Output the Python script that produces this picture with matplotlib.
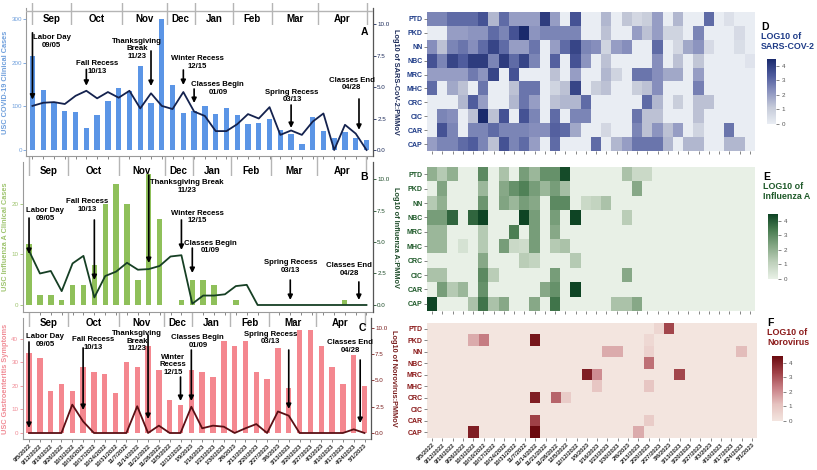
import numpy as np
import matplotlib
matplotlib.use("Agg")
import matplotlib.pyplot as plt
from matplotlib.colors import LinearSegmentedColormap
from matplotlib import font_manager

# weekly sampling dates (winter break skipped)
dates = ["9/5/2022", "9/12/2022", "9/19/2022", "9/26/2022", "10/3/2022", "10/10/2022",
         "10/17/2022", "10/24/2022", "10/31/2022", "11/7/2022", "11/14/2022", "11/21/2022",
         "11/28/2022", "12/5/2022", "12/12/2022", "1/9/2023", "1/16/2023", "1/23/2023",
         "1/30/2023", "2/6/2023", "2/13/2023", "2/20/2023", "2/27/2023", "3/6/2023",
         "3/13/2023", "3/20/2023", "3/27/2023", "4/3/2023", "4/10/2023", "4/17/2023",
         "4/24/2023", "5/1/2023"]
sites = ["PTD", "PKD", "NN", "NBC", "MRC", "MHC", "CRC", "CIC", "CAR", "CAP"]
months = ["Sep", "Oct", "Nov", "Dec", "Jan", "Feb", "Mar", "Apr"]
month_breaks = [0, 3.6, 8.3, 12.45, 15.05, 18.6, 22.2, 26.5, 31]

# clinical cases (bars) and wastewater ratios (lines)
covid_cases = [215, 137, 111, 90, 87, 51, 81, 112, 141, 136, 192, 108, 300, 149, 84, 89,
               101, 82, 97, 79, 59, 61, 70, 46, 37, 14, 75, 44, 28, 42, 27, 24]
sars_pmmov = [3.5, 3.75, 3.8, 3.65, 4.3, 4.7, 4.1, 4.6, 4.15, 4.7, 3.3, 4.5, 3.5, 3.25, 4.6, 3.05,
              2.7, 1.5, 1.5, 2.05, 2.85, 2.5, 3.4, 1.2, 1.55, 1.2, 2.25, 2.9, 0, 2.0, 1.3, 0]
flu_cases = [12, 2, 2, 1, 4, 4, 8, 20, 24, 20, 5, 26, 17, 0, 1, 5,
             5, 4, 0, 1, 0, 0, 0, 0, 0, 0, 0, 0, 0, 1, 0, 0]
flu_pmmov = [4.3, 2.5, 2.7, 1.1, 3.3, 3.9, 0.6, 2.3, 2.65, 3.35, 2.8, 2.85, 3.1, 3.85, 3.95, 0.1,
             0.75, 0.75, 0.85, 1.5, 1.6, 0, 0, 0, 0, 0, 0, 0, 0, 0, 0, 0]
gi_symptoms = [34, 32, 18, 21, 18, 28, 26, 25, 17, 30, 28, 37, 27, 14, 12, 27,
               26, 24, 39, 37, 39, 26, 23, 36, 19, 44, 44, 37, 28, 21, 33, 20]
noro_pmmov = [0, 0, 0, 0, 2.7, 1.1, 0, 0, 0, 0, 2.55, 0, 0.7, 0, 0, 2.5,
              0.45, 0.7, 0.6, 0, 0.45, 0.85, 0, 2.05, 1.65, 0, 0, 0, 0, 0, 0.35, 0]

# LOG10 per site (rows) and week (cols)
sars_heat = [
    [2.5, 2.5, 3, 3, 3, 3.5, 1.5, 3, 2, 2, 2, 4, 2, 0, 3.5, 0, 0, 1.5, 0, 1.2, 0.7, 1, 2, 0, 1.5, 0, 0, 3, 0, 0.4, 0, 0],
    [0, 0, 2, 2, 2.2, 2.2, 3, 2.5, 3.5, 4.5, 2.2, 2.5, 2.5, 2.5, 2.5, 0, 0, 1.3, 0, 0, 2, 1.3, 2, 0.8, 0.8, 0, 2.5, 0, 0, 0, 0.6, 0],
    [2.3, 1.3, 2.5, 2.8, 2.3, 3, 3.8, 3, 2, 2, 2.8, 0, 2, 3, 3.8, 2.5, 2.3, 0.8, 2, 2.3, 0, 0, 3, 0, 0.7, 1.8, 2.2, 0.6, 0, 0, 0.5, 0],
    [3.5, 2.5, 3.8, 3.3, 4, 4, 2.5, 4, 3, 3.8, 2.5, 0, 3.2, 0, 3.5, 2.2, 0, 1.3, 0, 0, 0, 0, 2.3, 0, 1.3, 0, 1.2, 0, 0, 0, 0, 0.3],
    [2, 2, 2, 2, 2.7, 2.2, 3.8, 0, 3.5, 0, 0, 0, 1.3, 0, 2, 0, 0, 1.5, 0.8, 0, 2.8, 2.8, 2.3, 1.8, 1.8, 0, 2, 0, 0, 0, 0, 0],
    [3, 0, 1.8, 1.3, 0, 2.8, 0, 0, 1.3, 2.8, 2.8, 0, 0.8, 1.3, 3.8, 0, 1, 1.3, 0, 0, 1, 1.3, 2.3, 0, 0, 0, 2.6, 0, 0, 0, 0, 0],
    [0, 0, 0, 1.5, 3.3, 2, 0, 0, 1.5, 2.8, 2, 0, 1.3, 1.5, 1.5, 3, 0, 0, 0, 0, 0, 3, 1.5, 0, 1, 0, 1.3, 1.3, 0, 0, 0, 0],
    [0, 2.5, 2.3, 0, 1.3, 4.5, 1.3, 3.5, 0, 3.5, 2.5, 0, 3, 0, 2.5, 2.5, 0, 0, 0, 0, 2.8, 1.3, 1.3, 0, 0, 0, 1.3, 0, 0, 0, 0, 0],
    [0, 3.5, 2.5, 0, 2.5, 2.5, 3, 2.5, 2.5, 2.5, 2.3, 2.3, 3.2, 3, 1.8, 0, 0, 0.7, 0, 0, 2.5, 1.3, 2.2, 1.3, 2, 0, 0.8, 0, 0, 2.8, 0, 0],
    [2, 2.5, 2.5, 3, 3.3, 2.5, 1.3, 3.5, 2.5, 3, 2, 0, 3, 0, 0, 0, 3, 0, 1.5, 2, 2.8, 2.8, 2.8, 1.5, 0, 1.5, 1.5, 0, 0, 1.5, 1.5, 0],
]
flu_heat = [
    [2, 1.3, 2, 0, 0, 3, 0, 1.5, 0, 2.5, 1.8, 2.8, 2.8, 4.3, 0, 0, 0, 0, 0, 1.5, 0.8, 0.8, 0, 0, 0, 0, 0, 0, 0, 0, 0, 0],
    [0, 2.3, 0, 0, 0, 1.8, 0, 2.2, 2.8, 3.2, 2.5, 1.8, 2.5, 1.6, 0, 0, 0, 0, 0, 0, 2.2, 0, 0, 0, 0, 0, 0, 0, 0, 0, 0, 0],
    [1.3, 2, 0, 0, 0, 2.7, 0, 2.3, 1.8, 2.5, 2.2, 0, 3, 3, 0, 0.8, 1, 1.5, 0, 0, 0, 0, 0, 0, 0, 0, 0, 0, 0, 0, 0, 0],
    [2.5, 2.5, 3.8, 0, 3.8, 4.5, 0, 0, 0, 4.5, 2.5, 0, 2.5, 0, 4.5, 0, 0, 0, 0, 1.2, 0, 0, 0, 0, 0, 0, 0, 0, 0, 0, 0, 0],
    [1.8, 1.8, 0, 0, 0, 1.3, 0, 0, 3.3, 0, 2.5, 0, 2.2, 0, 0, 0, 0, 0, 0, 0, 0, 0, 0, 0, 0, 0, 0, 0, 0, 0, 0, 0],
    [1.8, 1.8, 0, 0.5, 0, 1.3, 0, 2.5, 0.8, 0.7, 2.5, 0, 1.3, 1.5, 0, 0, 0, 0, 0, 0, 0, 0, 0, 0, 0, 0, 0, 0, 0, 0, 0, 0],
    [0, 0, 0, 0, 0, 2.2, 0, 0, 0, 1.2, 1.0, 0, 0, 0, 1.3, 0, 0, 0, 0, 0, 0, 0, 0, 0, 0, 0, 0, 0, 0, 0, 0, 0],
    [1.5, 1.5, 0, 0, 0, 3, 1.2, 0, 0, 0, 0, 0, 2.5, 0, 0, 0, 0, 0, 0, 2.2, 0, 0, 0, 0, 0, 0, 0, 0, 0, 0, 0, 0],
    [0, 2.5, 1.3, 1.8, 0, 2.8, 0, 0, 0, 0, 0, 2.2, 2.8, 0, 4.5, 0, 0, 0, 0, 0, 0, 0, 0, 0, 0, 0, 0, 0, 0, 0, 0, 0],
    [4.5, 0, 0, 0, 1.5, 3.5, 1.5, 2.2, 0, 0, 2.2, 0, 3.5, 0, 0, 0, 0, 0, 1.5, 1.5, 2.2, 0, 0, 0, 0, 0, 0, 0, 0, 0, 0, 0],
]
noro_heat = [
    [0, 0, 0, 0, 0, 0, 0, 0, 0, 0, 0, 0, 0, 0, 0, 0, 0, 0, 0, 0, 0, 0, 0.5, 3.2, 0, 0, 0, 0, 0, 0, 0, 0],
    [0, 0, 0, 0, 1.5, 2.3, 0, 0, 0, 0, 4.2, 0, 0, 0, 0, 0, 0, 0, 0, 0, 0, 0.4, 0, 0, 0, 0, 0, 0, 0, 0, 0, 0],
    [0, 0, 0, 0, 0, 0, 0, 0, 0, 0, 0, 0, 0, 0, 0, 0, 0, 1.5, 1.5, 0, 0, 0.6, 0, 0, 0, 0, 0, 0, 0, 0, 1.2, 0],
    [0, 0, 0, 0, 0, 0, 0, 0, 0, 0, 0, 0, 0, 0, 0, 0, 0, 0, 0, 0, 0, 2.5, 0, 0, 0, 0, 0, 0, 0, 0, 0, 0],
    [0, 0, 0, 0, 0, 0, 0, 0, 0, 0, 0, 0, 0, 0, 0, 4, 2, 0, 0, 0, 0, 0, 0, 0, 3.2, 0, 0, 0, 0, 0, 0, 0],
    [0, 0, 0, 0, 0, 0, 0, 0, 0, 0, 0, 0, 0, 0, 0, 0, 1.0, 0, 0, 0, 0, 1.0, 0, 0, 0, 0, 0, 0, 0, 0, 0, 0],
    [0, 0, 0, 0, 0, 0, 0, 0, 0, 0, 4, 0, 2.7, 0.8, 0, 0, 0, 0, 0, 0, 0, 0, 0, 0, 0, 0, 0, 0, 0, 0, 0, 0],
    [0, 0, 0, 0, 0, 0, 0, 0, 0, 0, 0, 0, 0, 0, 0, 0, 0, 0, 0, 0, 0, 0, 0, 0, 0, 0, 0, 0, 0, 0, 0, 0],
    [0, 0, 0, 0, 0, 0, 0, 0, 0, 0, 3.3, 0, 0, 0, 0, 0, 0, 0, 0, 0, 0, 0.8, 0, 0, 0, 0, 0, 0, 0, 0, 0, 0],
    [0, 0, 0, 0, 4, 0, 0, 0, 0, 0, 4.5, 0, 0, 0, 0, 0, 0, 0, 0, 0, 1.5, 0, 0, 0, 0, 0, 0, 0, 0, 0, 0, 0],
]

W, H = 817, 470
names = {f.name for f in font_manager.fontManager.ttflist}
NARROW = "Liberation Sans Narrow" if "Liberation Sans Narrow" in names else "Liberation Sans"
NOTE_SIZE = 6.5 if NARROW == "Liberation Sans Narrow" else 5.6
plt.rcParams["font.family"] = ["Liberation Sans", "DejaVu Sans"]

fig = plt.figure(figsize=(W / 100, H / 100), dpi=100)


def px(l, t, r, b):
    # pixel box -> figure fraction
    return [l / W, 1 - b / H, (r - l) / W, (b - t) / H]


def bar_panel(box, strip, ylim_l, ylim_r, cases, ratio, bar_c, line_c, lab_c, rlab_c,
              ylab, rlab, lticks, letter, letter_y, notes, top_line=False, xlabels=False):
    x = np.arange(len(dates))
    ax = fig.add_axes(px(*box))
    ax.bar(x, cases, width=0.5, color=bar_c, zorder=1)
    ax.set_xlim(-0.6, 31.6)
    ax.set_ylim(*ylim_l)
    ax.set_yticks(lticks)
    ax.tick_params(axis="y", colors=lab_c, labelsize=4.5, length=2, width=0.6, pad=1)
    ax.set_ylabel(ylab, color=lab_c, fontsize=5.3, fontweight="bold", labelpad=2)
    ax.set_xticks(x)
    if xlabels:
        ax.set_xticklabels(dates, rotation=45, ha="right", rotation_mode="anchor",
                           fontsize=4.2, fontweight="bold", family=NARROW, color="#222222")
    else:
        ax.set_xticklabels([])
    ax.tick_params(axis="x", length=2, width=0.5, color="#555555", pad=1)
    ax.spines["top"].set_visible(False)
    ax.spines["left"].set_color("#9a9a9a")
    ax.spines["bottom"].set_color("#9a9a9a")

    ax2 = ax.twinx()
    ax2.plot(x, ratio, color=line_c, lw=1.3, zorder=3)
    ax2.set_ylim(*ylim_r)
    ax2.set_yticks([0, 2.5, 5, 7.5, 10])
    ax2.set_yticklabels(["0.0", "2.5", "5.0", "7.5", "10.0"])
    ax2.tick_params(axis="y", colors=rlab_c, labelsize=4.5, length=2, width=0.6, pad=1)
    ax2.set_ylabel(rlab, rotation=270, color=rlab_c, fontsize=5.3, fontweight="bold", labelpad=7)
    ax2.spines["top"].set_visible(False)
    ax2.spines["right"].set_color("#555555")
    ax2.spines["left"].set_visible(False)
    ax2.spines["bottom"].set_visible(False)

    for label, tx, ty, axx, y0, y1 in notes:
        ax2.text(tx, ty, label, ha="center", va="center", fontsize=NOTE_SIZE, fontweight="bold",
                 family=NARROW, linespacing=1.1, zorder=5)
        ax2.annotate("", xy=(axx, y1), xytext=(axx, y0),
                     arrowprops=dict(arrowstyle="-|>", color="black", lw=1.2,
                                     mutation_scale=7, shrinkA=0, shrinkB=0), zorder=5)

    # month strip on top
    sx = fig.add_axes(px(*strip), sharex=ax)
    sx.set_ylim(0, 1)
    sx.axis("off")
    sx.patch.set_alpha(0)
    for b in month_breaks:
        sx.axvline(b, color="#b5b5b5", lw=1)
    if top_line:
        sx.axhline(0.64, color="#b5b5b5", lw=1)
    for i, m in enumerate(months):
        sx.text((month_breaks[i] + month_breaks[i + 1]) / 2, 0.25, m, ha="center",
                va="center", fontsize=7, fontweight="bold")
    fig.text((box[2] - 9) / W, 1 - letter_y / H, letter, fontsize=7.5,
             fontweight="bold", ha="center", va="center")
    return ax


notes_a = [("Labor Day\n09/05", 1.8, 8.6, 0, 9.3, 4.0),
           ("Fall Recess\n10/13", 6.0, 6.55, 5, 6.4, 5.1),
           ("Thanksgiving\nBreak\n11/23", 9.7, 8.05, 11, 7.86, 5.08),
           ("Winter Recess\n12/15", 15.3, 6.94, 14, 6.35, 5.16),
           ("Classes Begin\n01/09", 17.2, 4.88, 15, 4.84, 3.73),
           ("Spring Recess\n03/13", 24.1, 4.29, 24, 3.57, 1.75),
           ("Classes End\n04/28", 29.6, 5.24, 30.3, 4.05, 1.6)]
notes_b = [("Labor Day\n09/05", 1.5, 7.18, 0, 6.9, 4.05),
           ("Fall Recess\n10/13", 5.3, 7.9, 6, 6.75, 1.98),
           ("Thanksgiving Break\n11/23", 14.5, 9.4, 11, 10.3, 3.33),
           ("Winter Recess\n12/15", 15.5, 6.98, 14, 6.75, 4.37),
           ("Classes Begin\n01/09", 16.7, 4.6, 15, 4.52, 2.54),
           ("Spring Recess\n03/13", 24.0, 3.05, 24, 1.98, 0.4),
           ("Classes End\n04/28", 29.4, 2.82, 30.3, 1.83, 0.4)]
notes_c = [("Labor Day\n09/05", 1.5, 8.8, 0, 8.67, 0.48),
           ("Fall Recess\n10/13", 5.9, 8.52, 5, 8.1, 2.19),
           ("Thanksgiving\nBreak\n11/23", 10.0, 8.76, 11, 9.33, 1.33),
           ("Winter\nRecess\n12/15", 13.3, 6.48, 14, 5.33, 3.05),
           ("Classes Begin\n01/09", 15.6, 8.71, 15, 7.9, 3.05),
           ("Spring Recess\n03/13", 22.3, 9.05, 24, 7.9, 2.29),
           ("Classes End\n04/28", 29.7, 8.24, 30.6, 6.95, 0.95)]

bar_panel((26, 8, 373, 156), (26, 3, 373, 25), (-13.7, 325), (-0.476, 11.27),
          covid_cases, sars_pmmov, "#5b95e6", "#14224e", "#6f9fdc", "#1c2b5a",
          "USC COVID-19 Clinical Cases", "Log10 of SARS-CoV-2:PMMoV", [0, 100, 200, 300],
          "A", 32, notes_a, top_line=True)
bar_panel((22.5, 162, 373, 312), (22.5, 157, 373, 176), (-1.39, 28.3), (-0.556, 11.35),
          flu_cases, flu_pmmov, "#8fc05a", "#163f24", "#9ec46e", "#1f4d2a",
          "USC Influenza A Clinical Cases", "Log10 of Influenza A:PMMoV", [0, 10, 20],
          "B", 177, notes_b)
bar_panel((22.5, 318, 371, 439), (22.5, 313, 371, 327), (-2.55, 48.9), (-0.571, 10.95),
          gi_symptoms, noro_pmmov, "#f4878f", "#5a0f14", "#f08c96", "#7a1f1f",
          "USC Gastroenteritis Symptoms", "Log10 of Norovirus:PMMoV", [0, 10, 20, 30, 40],
          "C", 328, notes_c, xlabels=True)


def heat_panel(box, data, colors, lab_c, letter, title, cbar_box, title_xy, xlabels=False):
    cmap = LinearSegmentedColormap.from_list("c", colors)
    ax = fig.add_axes(px(*box))
    im = ax.imshow(np.array(data), cmap=cmap, vmin=0, vmax=4.45, aspect="auto",
                   interpolation="nearest")
    ax.set_yticks(range(len(sites)))
    ax.set_yticklabels(sites, fontsize=5, fontweight="bold", color=lab_c)
    ax.set_xticks(range(len(dates)))
    if xlabels:
        ax.set_xticklabels(dates, rotation=45, ha="right", rotation_mode="anchor",
                           fontsize=4.2, fontweight="bold", family=NARROW, color="#222222")
    else:
        ax.set_xticklabels([])
    ax.tick_params(length=2, width=0.5, color="#555555", pad=1)
    for s in ax.spines.values():
        s.set_visible(False)
    cax = fig.add_axes(px(*cbar_box))
    cb = fig.colorbar(im, cax=cax, ticks=[0, 1, 2, 3, 4])
    cb.outline.set_visible(False)
    cax.tick_params(labelsize=4.5, length=2, width=0.5, colors="#555555", pad=2)
    tx, ty = title_xy
    fig.text(tx / W, 1 - ty / H, letter, fontsize=7.5, fontweight="bold", va="top")
    fig.text(tx / W, 1 - (ty + 10) / H, title, fontsize=6.4, fontweight="bold",
             color=lab_c, va="top", linespacing=1.15)


heat_panel((427, 12, 755, 151), sars_heat,
           ["#e9edf3", "#c6cbd9", "#8b93bf", "#4d5a9c", "#1a2a6c"], "#1f3c88",
           "D", "LOG10 of\nSARS-COV-2", (767, 59, 776, 124), (761, 22))
heat_panel((427, 167, 755, 311), flu_heat,
           ["#e8f0e6", "#bfd1bc", "#86a886", "#4a7d52", "#0e4424"], "#1f5a2a",
           "E", "LOG10 of\nInfluenza A", (768, 214, 778, 279), (763, 172))
heat_panel((427, 323, 757, 438), noro_heat,
           ["#f3e5df", "#e6c3c0", "#c98187", "#9e3f45", "#6b0a0f"], "#8b1a1a",
           "F", "LOG10 of\nNorovirus", (772, 356, 783, 421), (767, 318), xlabels=True)

fig.savefig("out.png", dpi=100)
